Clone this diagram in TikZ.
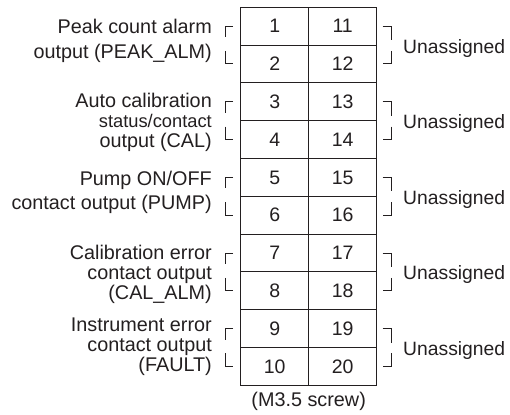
\documentclass[tikz,border=0pt]{standalone}
\usepackage{fontspec}
\setmainfont{Liberation Sans}
\usetikzlibrary{calc}
\definecolor{ink}{HTML}{231F20}
\tikzset{
  cell/.style={draw=ink, line width=1.1pt, minimum width=68pt, minimum height=37.8pt,
    inner sep=0pt, outer sep=0pt, font=\fontsize{19.5}{22}\selectfont, text=ink},
  lbltwo/.style={anchor=east, align=right, inner sep=0pt, font=\fontsize{19.8}{24.5}\selectfont, text=ink},
  lblthree/.style={anchor=east, align=right, inner sep=0pt, font=\fontsize{19.8}{20}\selectfont, text=ink},
  una/.style={anchor=west, inner sep=0pt, font=\fontsize{19.3}{22}\selectfont, text=ink},
  note/.style={anchor=center, inner sep=0pt, font=\fontsize{19.8}{22}\selectfont, text=ink},
  brk/.style={draw=ink, line width=1pt},
}
\begin{document}
\begin{tikzpicture}[x=1pt,y=-1pt]
\useasboundingbox (0,0) rectangle (510,414);
% cells
\foreach \r in {0,...,9}{
  \pgfmathtruncatemacro\a{\r+1}
  \pgfmathtruncatemacro\b{\r+11}
  \node[cell] (L\a) at (274.7,26.2+37.8*\r) {\a};
  \node[cell] (R\b) at (342.7,26.2+37.8*\r) {\b};
}
% brackets
\foreach \t/\u in {1/2,3/4,5/6,7/8,9/10}{
  \pgfmathtruncatemacro\tt{\t+10}
  \pgfmathtruncatemacro\uu{\u+10}
  \draw[brk] ($(L\t.west)+(-7.7,0)$) -- ($(L\t.west)+(-15.7,0)$) -- ($(L\t.west)+(-15.7,11)$);
  \draw[brk] ($(L\u.west)+(-15.7,-13)$) -- ($(L\u.west)+(-15.7,0)$) -- ($(L\u.west)+(-7.7,0)$);
  \draw[brk] ($(R\tt.east)+(6,0)$) -- ($(R\tt.east)+(15,0)$) -- ($(R\tt.east)+(15,14)$);
  \draw[brk] ($(R\uu.east)+(15,-13)$) -- ($(R\uu.east)+(15,0)$) -- ($(R\uu.east)+(6,0)$);
  \node[una] (U\t) at ($(R\tt.east)!0.5!(R\uu.east)+(26.3,3)$) {Unassigned};
}
% left labels
\node[lbltwo] (g1) at (212,41) {Peak count alarm\\output (PEAK\_ALM)};
\node[lblthree] (g2) at (212,122) {Auto calibration\\{\fontsize{18.3}{20}\selectfont status/contact}\\output (CAL)};
\node[lbltwo] (g3) at (212,192.5) {Pump ON/OFF\\contact output (PUMP)};
\node[lblthree] (g4) at (212,274) {Calibration error\\contact output\hspace*{5pt}\\(CAL\_ALM)};
\node[lblthree] (g5) at (212,347) {Instrument error\\contact output\hspace*{5pt}\\(FAULT)};
% screw note
\node[note] (m) at (308.7,401) {(M3.5 screw)};
\end{tikzpicture}
\end{document}
